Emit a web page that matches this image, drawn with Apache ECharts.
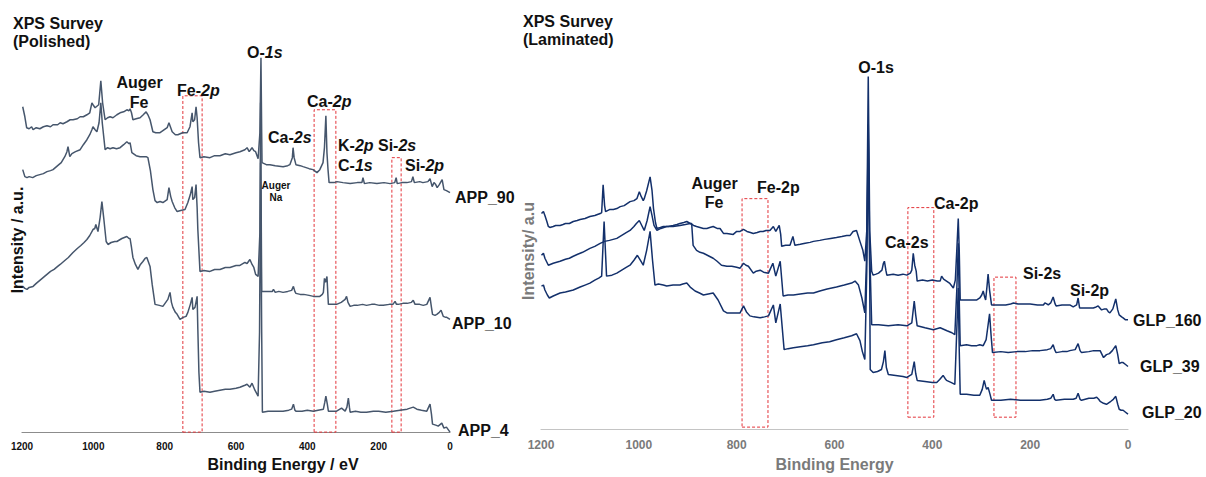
<!DOCTYPE html>
<html><head><meta charset="utf-8">
<script src="https://cdn.jsdelivr.net/npm/echarts@6/dist/echarts.min.js"></script>
<style>html,body{margin:0;padding:0;background:#fff}#c{width:1206px;height:477px}</style>
</head><body><div id="c"></div>
<script>
// Binding energy tick labels (eV)
const energyTicks = [1200, 1000, 800, 600, 400, 200, 0];

// ---- Left panel: Polished (APP) — [binding energy eV, intensity a.u.]
const APP_90 = [[1198,326],[1192,316],[1187,305],[1180,304],[1173,306],[1169,303],[1160,305],[1150,304],[1140,306],[1130,307],[1120,306],[1113,308],[1100,308],[1093,310],[1085,309],[1074,311],[1065,313],[1057,313],[1045,314],[1037,316],[1028,316],[1018,318],[1010,320],[1004,330],[999,327],[995,325],[985,328],[979,352],[974,330],[967,313],[960,315],[953,316],[945,315],[934,318],[925,320],[915,321],[906,323],[900,322],[897,324],[893,320],[889,313],[880,314],[869,315],[860,318],[852,321],[847,318],[841,313],[833,301],[825,300],[813,300],[805,302],[793,305],[788,310],[783,305],[779,301],[770,298],[763,298],[750,300],[737,300],[729,306],[723,320],[721,311],[716,313],[712,326],[709,315],[705,290],[701,275],[690,276],[673,275],[660,277],[645,277],[630,279],[617,278],[600,280],[589,281],[575,283],[569,285],[563,281],[555,285],[550,282],[545,281],[538,274],[533,300],[530,375],[528,300],[527,270],[515,268],[505,268],[490,267],[468,266],[455,267],[449,268],[442,275],[440,285],[437,275],[432,268],[420,267],[412,266],[395,264],[384,263],[373,260],[365,263],[356,270],[352,285],[348,317],[345,280],[342,263],[339,250],[325,250],[317,251],[300,250],[280,249],[260,250],[247,250],[244,255],[240,249],[225,250],[205,249],[185,250],[168,249],[155,250],[151,255],[148,249],[135,250],[121,250],[108,251],[104,256],[100,250],[85,251],[76,250],[62,251],[56,254],[50,246],[45,250],[40,248],[36,245],[30,248],[22,253],[17,243],[10,242],[0,240]];
const APP_10 = [[1198,263],[1192,256],[1186,255],[1180,256],[1170,255],[1160,257],[1150,258],[1140,259],[1130,261],[1120,262],[1113,263],[1100,267],[1090,270],[1080,276],[1074,281],[1071,286],[1066,276],[1060,279],[1050,281],[1037,283],[1028,288],[1018,293],[1010,298],[1004,303],[1001,306],[995,303],[990,301],[984,310],[979,330],[975,310],[967,283],[960,285],[953,284],[945,285],[935,284],[925,285],[915,288],[906,291],[900,289],[897,290],[892,280],[880,277],[869,276],[860,276],[852,276],[847,275],[840,262],[833,243],[827,232],[821,230],[813,231],[805,230],[797,232],[793,233],[788,245],[783,236],[779,231],[772,225],[765,221],[755,222],[743,223],[735,230],[728,238],[723,246],[721,233],[716,235],[712,248],[709,225],[707,203],[703,175],[701,161],[690,162],[673,161],[660,163],[645,163],[630,165],[617,165],[600,167],[589,167],[575,170],[569,169],[561,173],[555,168],[550,165],[545,158],[538,156],[533,200],[531,330],[529,200],[528,141],[518,141],[510,141],[498,141],[495,143],[490,140],[480,141],[468,140],[455,141],[444,142],[439,146],[435,141],[432,139],[420,138],[410,138],[395,137],[383,136],[365,136],[358,138],[355,140],[352,154],[349,150],[345,156],[341,128],[330,128],[318,128],[305,130],[294,133],[290,136],[286,130],[280,126],[270,127],[260,127],[245,128],[234,127],[220,128],[210,128],[198,127],[187,127],[170,128],[160,128],[154,131],[150,128],[145,128],[132,129],[120,129],[108,130],[103,132],[98,128],[93,128],[85,128],[75,127],[65,128],[56,135],[52,125],[49,118],[42,117],[37,118],[30,120],[25,122],[19,116],[12,115],[9,115],[0,113]];
const APP_4 = [[1198,146],[1192,144],[1186,143],[1180,145],[1169,146],[1160,149],[1150,152],[1140,155],[1130,158],[1120,161],[1110,163],[1100,166],[1093,168],[1080,172],[1070,175],[1057,180],[1045,184],[1035,187],[1026,190],[1018,193],[1010,197],[1001,203],[996,204],[993,208],[987,201],[981,215],[976,231],[971,215],[964,191],[959,188],[950,190],[940,191],[934,191],[920,194],[906,196],[900,194],[897,194],[893,185],[889,175],[882,168],[875,163],[868,168],[861,171],[855,174],[850,175],[845,170],[841,166],[835,148],[827,128],[815,127],[805,126],[797,130],[791,133],[785,140],[781,130],[777,125],[770,120],[765,118],[757,113],[748,115],[740,116],[735,120],[728,128],[723,135],[721,123],[715,125],[709,136],[707,103],[704,60],[701,40],[690,41],[673,40],[660,41],[645,42],[630,43],[617,43],[600,44],[589,45],[575,47],[569,48],[561,45],[555,49],[547,42],[538,36],[534,100],[531,270],[528,100],[526,20],[510,21],[490,21],[468,21],[452,22],[444,23],[439,28],[435,22],[432,21],[415,21],[400,22],[383,21],[370,22],[355,23],[351,30],[348,36],[344,28],[341,21],[330,21],[318,21],[304,24],[294,21],[289,25],[285,34],[282,25],[280,20],[265,21],[250,20],[234,20],[215,21],[200,21],[180,20],[159,21],[140,22],[120,23],[103,25],[93,23],[80,22],[65,21],[56,28],[52,18],[49,8],[40,7],[33,6],[23,9],[17,4],[10,5],[0,0]];

// ---- Right panel: Laminated (GLP)
const GLP_160 = [[1199,217],[1195,219],[1192,215],[1188,209],[1185,204],[1182,203],[1175,204],[1170,205],[1161,205],[1155,206],[1150,207],[1142,207],[1134,209],[1126,210],[1120,211],[1110,212],[1100,214],[1090,215],[1079,217],[1076,218],[1073,246],[1070,225],[1068,219],[1060,221],[1052,221],[1045,222],[1038,224],[1030,225],[1024,227],[1018,229],[1010,230],[1004,232],[999,239],[995,234],[991,230],[989,232],[984,240],[977,254],[973,240],[970,222],[966,208],[963,202],[956,203],[950,204],[940,204],[930,205],[922,206],[916,207],[908,208],[902,209],[895,207],[888,205],[882,204],[875,203],[868,202],[861,202],[855,203],[848,204],[840,202],[834,202],[827,197],[820,197],[807,196],[800,199],[793,199],[786,201],[779,199],[772,198],[766,197],[758,198],[752,199],[746,199],[740,200],[735,200],[732,200],[725,204],[720,199],[713,205],[710,196],[708,184],[700,185],[691,185],[685,194],[681,185],[670,186],[660,187],[650,188],[643,189],[630,190],[620,191],[608,192],[596,193],[585,194],[575,195],[568,195],[562,199],[555,200],[548,189],[542,180],[538,169],[534,200],[531,355],[528,200],[524,159],[521,155],[515,156],[510,157],[503,160],[500,167],[498,169],[495,160],[493,155],[480,156],[470,155],[460,156],[452,155],[445,157],[442,160],[439,177],[436,165],[433,159],[431,149],[420,150],[410,149],[400,150],[390,149],[384,149],[381,154],[377,151],[374,150],[365,147],[357,142],[353,150],[350,180],[347,212],[345,180],[343,130],[335,130],[320,130],[309,130],[303,132],[299,135],[296,139],[293,133],[291,130],[288,145],[286,156],[283,140],[279,125],[265,125],[250,125],[240,126],[234,127],[225,126],[210,126],[200,126],[185,125],[173,125],[170,127],[166,126],[163,125],[158,127],[153,133],[149,126],[147,124],[135,125],[125,125],[119,125],[112,123],[105,125],[102,132],[99,122],[90,122],[80,122],[71,122],[65,123],[61,124],[54,120],[48,121],[44,121],[40,118],[37,117],[31,121],[25,131],[21,120],[18,115],[13,113],[10,112],[5,110],[0,110]];
const GLP_39 = [[1199,175],[1195,177],[1192,172],[1188,168],[1185,165],[1175,167],[1161,169],[1150,171],[1142,172],[1134,174],[1125,176],[1115,178],[1100,182],[1090,184],[1079,187],[1070,189],[1060,190],[1045,192],[1035,195],[1025,198],[1018,200],[1010,204],[1005,207],[999,210],[994,205],[989,200],[983,210],[977,224],[973,215],[969,205],[963,200],[955,202],[943,204],[930,204],[916,205],[905,206],[895,207],[892,207],[889,185],[882,180],[875,178],[868,177],[860,175],[848,172],[840,169],[831,165],[820,164],[810,164],[800,163],[793,162],[786,167],[781,165],[776,164],[766,157],[760,159],[752,160],[745,158],[735,157],[726,167],[720,154],[711,169],[705,134],[695,135],[684,135],[670,136],[655,137],[643,137],[630,139],[615,141],[596,143],[580,145],[565,147],[558,149],[551,145],[544,132],[538,117],[534,180],[531,307],[528,180],[524,105],[510,105],[490,104],[470,105],[452,104],[442,107],[437,129],[434,115],[431,104],[415,102],[398,100],[384,102],[370,99],[360,97],[354,95],[350,140],[347,187],[345,130],[343,84],[330,85],[320,84],[309,84],[303,85],[296,84],[290,90],[286,105],[283,116],[280,95],[277,77],[260,78],[245,77],[227,78],[210,78],[195,79],[180,79],[165,80],[158,81],[153,85],[150,80],[147,77],[135,78],[125,78],[119,79],[108,80],[102,86],[98,79],[95,77],[80,78],[70,79],[57,79],[53,75],[50,72],[44,75],[38,76],[32,79],[25,84],[21,75],[18,66],[14,67],[10,67],[5,65],[0,63]];
const GLP_20 = [[1199,144],[1195,145],[1192,140],[1187,135],[1183,132],[1175,134],[1161,137],[1150,138],[1142,139],[1134,140],[1120,143],[1110,145],[1100,147],[1090,150],[1082,152],[1076,154],[1071,209],[1066,154],[1055,155],[1045,157],[1035,160],[1025,163],[1018,165],[1010,170],[1003,175],[997,170],[991,165],[984,180],[977,199],[972,170],[967,145],[960,146],[950,145],[943,144],[930,145],[916,145],[910,146],[902,147],[895,143],[885,139],[876,137],[868,135],[858,136],[848,137],[838,130],[827,119],[820,117],[807,117],[800,117],[793,117],[786,124],[780,118],[773,114],[765,113],[752,112],[743,113],[735,114],[725,125],[720,107],[711,126],[703,80],[695,81],[684,82],[670,83],[655,84],[643,85],[625,87],[610,88],[596,90],[580,92],[565,94],[555,96],[548,89],[543,78],[538,70],[534,160],[531,292],[528,150],[527,60],[521,57],[512,58],[504,60],[500,68],[497,79],[494,62],[490,55],[475,54],[460,53],[452,52],[442,55],[437,68],[434,56],[431,49],[415,48],[400,47],[391,47],[385,50],[378,54],[374,51],[371,49],[362,47],[354,45],[350,100],[347,142],[345,80],[343,35],[330,35],[315,34],[303,34],[298,40],[294,49],[291,43],[289,40],[286,42],[282,35],[279,29],[260,29],[240,30],[220,29],[200,29],[180,29],[165,30],[158,31],[153,35],[150,30],[147,29],[130,30],[112,30],[106,31],[102,36],[98,30],[95,29],[80,31],[70,31],[64,32],[60,30],[57,28],[50,26],[44,25],[35,28],[30,30],[25,33],[21,25],[18,20],[14,19],[10,19],[5,17],[0,15]];

// Highlighted regions: [high eV, low eV, top intensity, bottom intensity]
const leftBoxes = [[749, 695, 337], [381, 320, 323], [163, 137, 275]];
const rightBoxes = [[789, 736, 232, 2], [450, 397, 223, 12], [274, 229, 153, 12]];

const FONT = '"Liberation Sans", Arial, Helvetica, sans-serif';
const LEFT_COLOR = '#46566c';
const RIGHT_COLOR = '#13306b';
const BOX_COLOR = '#e3343a';

function boxArea(list) {
  return {
    silent: true,
    itemStyle: { color: 'rgba(0,0,0,0)', borderColor: BOX_COLOR, borderWidth: 1, borderType: [3, 2] },
    label: { show: false },
    data: list.map(b => [{ coord: [b[0], b.length > 3 ? b[3] : 0] }, { coord: [b[1], b[2]] }])
  };
}

function spectrum(name, data, idx, color, boxes) {
  const s = {
    name: name, type: 'line', data: data, xAxisIndex: idx, yAxisIndex: idx,
    symbol: 'none', showSymbol: false, smooth: false, clip: false,
    lineStyle: { color: color, width: 1.5 }, itemStyle: { color: color },
    emphasis: { disabled: true }, z: 2
  };
  if (boxes) s.markArea = boxArea(boxes);
  return s;
}

function t(x, y, text, o) {
  o = o || {};
  const st = {
    text: text, x: 0, y: 0,
    fill: o.fill || '#111',
    font: (o.italic ? 'italic ' : '') + 'bold ' + (o.size || 16) + 'px ' + FONT,
    textAlign: o.align || 'left', textVerticalAlign: 'middle'
  };
  if (o.rich) st.rich = o.rich;
  return { type: 'text', x: x, y: y, rotation: o.rot || 0, silent: true, z: 10, style: st };
}
const RICH = {
  n: { fontFamily: FONT, fontWeight: 'bold', fontSize: 16, fill: '#111', color: '#111' },
  i: { fontFamily: FONT, fontWeight: 'bold', fontStyle: 'italic', fontSize: 16, fill: '#111', color: '#111' }
};
function ti(x, y, a, b) { return t(x, y, '{n|' + a + '}{i|' + b + '}', { rich: RICH }); }

const GRAY = '#7a7a7a';
const graphics = [
  // Left panel texts
  t(13, 23, 'XPS Survey'), t(13, 41.5, '(Polished)'),
  t(17, 240, 'Intensity / a.u.', { align: 'center', rot: Math.PI / 2 }),
  t(139.5, 82, 'Auger', { align: 'center' }), t(139, 102, 'Fe', { align: 'center' }),
  ti(177, 90.5, 'Fe-', '2p'),
  ti(247, 52, 'O-', '1s'),
  ti(268, 137, 'Ca-', '2s'),
  ti(307, 101, 'Ca-', '2p'),
  ti(338, 145, 'K-', '2p'), ti(338, 165, 'C-', '1s'),
  ti(378, 145, 'Si-', '2s'), ti(405, 165, 'Si-', '2p'),
  t(276, 185, 'Auger', { align: 'center', size: 10 }), t(276, 197.5, 'Na', { align: 'center', size: 10 }),
  t(455, 197, 'APP_90'), t(452, 323.5, 'APP_10'), t(458, 430, 'APP_4'),
  // Right panel texts
  t(523, 21.5, 'XPS Survey'), t(523, 39.5, '(Laminated)'),
  t(528, 251, 'Intensity/ a.u', { align: 'center', rot: Math.PI / 2, fill: GRAY }),
  t(876, 67, 'O-1s', { align: 'center' }),
  t(714.5, 183, 'Auger', { align: 'center' }), t(714, 202, 'Fe', { align: 'center' }),
  t(757, 187, 'Fe-2p'),
  t(934, 203, 'Ca-2p'), t(885, 242, 'Ca-2s'),
  t(1023, 273.5, 'Si-2s'), t(1070, 290, 'Si-2p'),
  t(1133, 320, 'GLP_160'), t(1140, 366, 'GLP_39'), t(1142, 412.5, 'GLP_20')
];

const plain = v => String(v);
const chart = echarts.init(document.getElementById('c'), null, { renderer: 'svg', width: 1206, height: 477 });
chart.setOption({
  animation: false,
  backgroundColor: '#fff',
  grid: [
    { left: 22, right: 756, top: 0, bottom: 44 },
    { left: 541, right: 78, top: 0, bottom: 45 }
  ],
  xAxis: [
    {
      gridIndex: 0, type: 'value', min: energyTicks[energyTicks.length - 1], max: energyTicks[0], interval: 200, inverse: true,
      axisLine: { show: true, lineStyle: { color: '#8c8c8c', width: 1.2 } },
      axisTick: { show: false }, splitLine: { show: false },
      axisLabel: { color: '#111', fontSize: 10, fontWeight: 'bold', fontFamily: FONT, margin: 9, formatter: plain },
      name: 'Binding Energy / eV', nameLocation: 'middle', nameGap: 21,
      nameTextStyle: { color: '#111', fontSize: 16, fontWeight: 'bold', fontFamily: FONT, padding: [0, 0, 0, 94] }
    },
    {
      gridIndex: 1, type: 'value', min: energyTicks[energyTicks.length - 1], max: energyTicks[0], interval: 200, inverse: true,
      axisLine: { show: true, lineStyle: { color: '#c4c4c4', width: 1.2 } },
      axisTick: { show: false }, splitLine: { show: false },
      axisLabel: { color: GRAY, fontSize: 12, fontWeight: 'bold', fontFamily: FONT, margin: 10, formatter: plain },
      name: 'Binding Energy', nameLocation: 'middle', nameGap: 25,
      nameTextStyle: { color: GRAY, fontSize: 16, fontWeight: 'bold', fontFamily: FONT }
    }
  ],
  yAxis: [
    { gridIndex: 0, type: 'value', min: 0, max: 433, show: false },
    { gridIndex: 1, type: 'value', min: 0, max: 432, show: false }
  ],
  series: [
    spectrum('APP_90', APP_90, 0, LEFT_COLOR, leftBoxes),
    spectrum('APP_10', APP_10, 0, LEFT_COLOR),
    spectrum('APP_4', APP_4, 0, LEFT_COLOR),
    spectrum('GLP_160', GLP_160, 1, RIGHT_COLOR, rightBoxes),
    spectrum('GLP_39', GLP_39, 1, RIGHT_COLOR),
    spectrum('GLP_20', GLP_20, 1, RIGHT_COLOR)
  ],
  graphic: graphics
});
</script>
</body></html>
